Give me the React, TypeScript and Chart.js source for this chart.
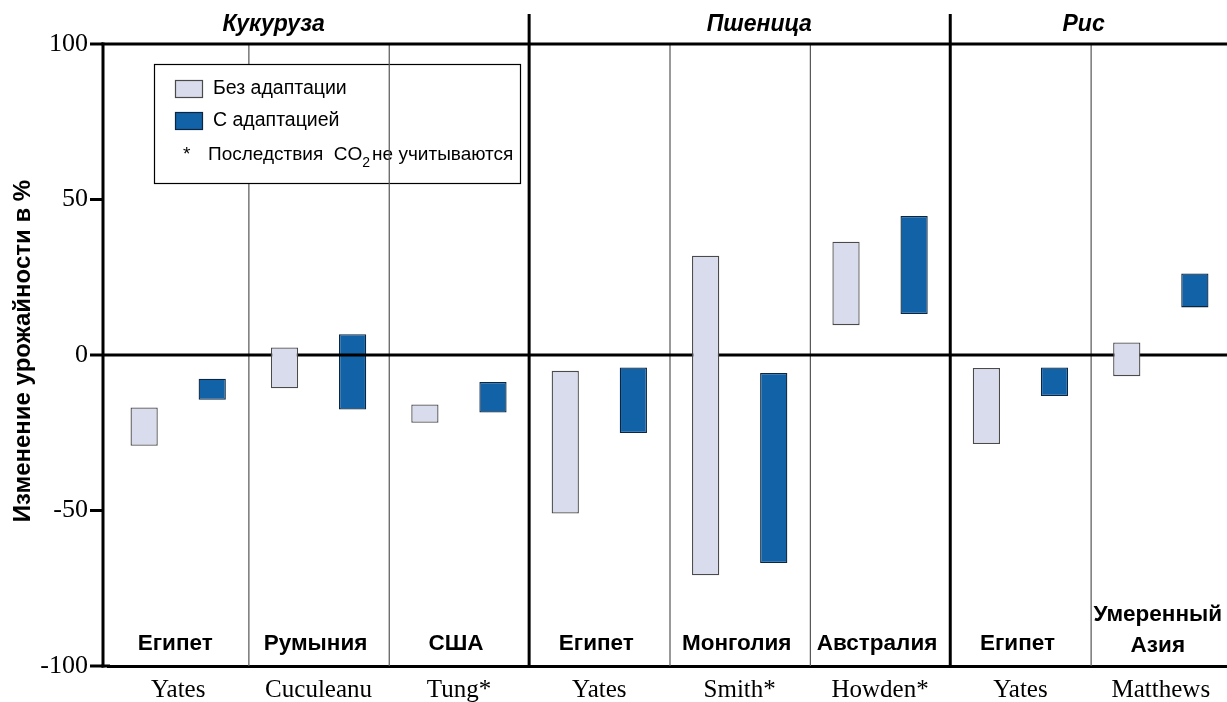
import React, { useEffect, useRef } from "react";
import { Chart, registerables } from "chart.js";

Chart.register(...registerables);

// ---- data ----
const studies = ["Yates", "Cuculeanu", "Tung*", "Yates", "Smith*", "Howden*", "Yates", "Matthews"];
const regions: string[][] = [
  ["Египет"],
  ["Румыния"],
  ["США"],
  ["Египет"],
  ["Монголия"],
  ["Австралия"],
  ["Египет"],
  ["Умеренный", "Азия"],
];
const crops = ["Кукуруза", "Пшеница", "Рис"];
const cropBoundaries = [3, 6]; // category boundaries between crops
const cropTitleAt = [1.18, 4.64, 6.95]; // title centre, in category units
const withoutLow = [-29.2, -10.7, -21.8, -51.0, -70.8, 9.6, -28.6, -6.8];
const withoutHigh = [-16.9, 2.4, -15.9, -5.1, 31.9, 36.4, -4.2, 4.0];
const withLow = [-14.4, -17.5, -18.5, -25.1, -66.9, 13.2, -13.2, 15.3];
const withHigh = [-7.6, 6.7, -8.7, -4.0, -5.8, 44.7, -4.0, 26.2];
const yTicks = [-100, -50, 0, 50, 100];

const seriesNames = ["Без адаптации", "С адаптацией"];
const noteText = "Последствия  CO";
const noteTail = "не учитываются";
const yTitle = "Изменение урожайности в %";

const LIGHT = "#d9dcec";
const LIGHT_BORDER = "#4a4a4a";
const DARK = "#1262a8";
const DARK_BORDER = "#0b2640";

const SANS = "'Liberation Sans', Arial, Helvetica, sans-serif";
const SERIF = "'Liberation Serif', 'Times New Roman', serif";

const AXIS_X = 103; // visible left axis line

export default function App() {
  const ref = useRef<HTMLCanvasElement | null>(null);

  useEffect(() => {
    const canvas = ref.current;
    if (!canvas) return;

    const line = (ctx: CanvasRenderingContext2D, x0: number, y0: number, x1: number, y1: number, lw: number, col: string) => {
      ctx.beginPath();
      ctx.lineWidth = lw;
      ctx.strokeStyle = col;
      ctx.moveTo(x0, y0);
      ctx.lineTo(x1, y1);
      ctx.stroke();
    };

    const overlay = {
      id: "overlay",
      beforeDatasetsDraw(chart: any) {
        const { ctx, chartArea: a, scales } = chart;
        const w = (a.right - a.left) / studies.length;
        const bx = (i: number) => a.left + w * i;
        ctx.save();
        // first thin separator (hidden behind legend)
        line(ctx, bx(1) + 0.5, a.top, bx(1) + 0.5, a.bottom, 1.2, "#555");

        // legend
        const lx = 154;
        const ly = a.top + 20;
        ctx.fillStyle = "#fff";
        ctx.fillRect(lx, ly, 366, 119);
        ctx.lineWidth = 1.2;
        ctx.strokeStyle = "#000";
        ctx.strokeRect(lx + 0.5, ly + 0.5, 366, 119);
        const sw = [
          { fill: LIGHT, border: LIGHT_BORDER },
          { fill: DARK, border: DARK_BORDER },
        ];
        ctx.font = `19.5px ${SANS}`;
        ctx.textBaseline = "middle";
        ctx.textAlign = "left";
        sw.forEach((s, i) => {
          const sy = ly + 16 + i * 32;
          ctx.fillStyle = s.fill;
          ctx.fillRect(lx + 21, sy, 27, 17);
          ctx.lineWidth = 1.2;
          ctx.strokeStyle = s.border;
          ctx.strokeRect(lx + 21.5, sy + 0.5, 27, 17);
          ctx.fillStyle = "#000";
          ctx.fillText(seriesNames[i], lx + 59, sy + 9);
        });
        const ny = ly + 91;
        ctx.font = `19px ${SANS}`;
        ctx.fillText("*", lx + 29, ny);
        ctx.fillText(noteText, lx + 54, ny);
        let tx = lx + 54 + ctx.measureText(noteText).width;
        ctx.font = `14px ${SANS}`;
        ctx.fillText("2", tx, ny + 8);
        tx += ctx.measureText("2").width + 2;
        ctx.font = `19px ${SANS}`;
        ctx.fillText(noteTail, tx, ny);

        // other thin separators
        [2, 4, 5, 7].forEach((i) => line(ctx, bx(i) + 0.5, a.top, bx(i) + 0.5, a.bottom, 1.2, "#555"));
        // thick crop separators
        cropBoundaries.forEach((i) => line(ctx, bx(i), 14, bx(i), a.bottom, 3, "#000"));
        // frame: top, left axis, bottom extension
        line(ctx, AXIS_X - 1.5, a.top, a.right, a.top, 3, "#000");
        line(ctx, AXIS_X, a.top - 1.5, AXIS_X, a.bottom + 1.5, 3, "#000");
        line(ctx, AXIS_X - 1.5, a.bottom, a.left + 2, a.bottom, 3, "#000");
        // y tick marks
        yTicks.forEach((v) => {
          const py = scales.y.getPixelForValue(v);
          line(ctx, 90, py, AXIS_X, py, 3, "#000");
        });
        ctx.restore();
      },
      afterDatasetDraw(chart: any, args: any) {
        if (args.index !== 1) return;
        const { ctx, chartArea: a, scales } = chart;
        const y0 = scales.y.getPixelForValue(0);
        ctx.save();
        line(ctx, AXIS_X, y0, a.right, y0, 3, "#000");
        ctx.restore();
      },
      afterDraw(chart: any) {
        const { ctx, chartArea: a } = chart;
        const w = (a.right - a.left) / studies.length;
        ctx.save();
        ctx.fillStyle = "#000";
        ctx.textAlign = "center";
        ctx.textBaseline = "alphabetic";
        // crop titles
        ctx.font = `italic bold 23px ${SANS}`;
        crops.forEach((c, i) => ctx.fillText(c, a.left + w * cropTitleAt[i], 31));
        // region labels
        ctx.font = `bold 22.5px ${SANS}`;
        regions.forEach((r, i) => {
          const cx = a.left + w * (i + 0.5) - 3;
          if (r.length === 1) {
            ctx.fillText(r[0], cx, a.bottom - 16);
          } else {
            ctx.fillText(r[0], cx, a.bottom - 45);
            ctx.fillText(r[1], cx, a.bottom - 14);
          }
        });
        // y title
        ctx.font = `bold 24px ${SANS}`;
        ctx.translate(23, (a.top + a.bottom) / 2 - 4);
        ctx.rotate(-Math.PI / 2);
        ctx.textBaseline = "middle";
        ctx.fillText(yTitle, 0, 0);
        ctx.restore();
      },
    };

    const chart = new Chart(canvas, {
      type: "bar",
      data: {
        labels: studies,
        datasets: [
          {
            label: seriesNames[0],
            data: withoutLow.map((v, i) => [v, withoutHigh[i]]),
            backgroundColor: LIGHT,
            borderColor: LIGHT_BORDER,
            borderWidth: 1.3,
            borderSkipped: false,
          },
          {
            label: seriesNames[1],
            data: withLow.map((v, i) => [v, withHigh[i]]),
            backgroundColor: DARK,
            borderColor: DARK_BORDER,
            borderWidth: 1.3,
            borderSkipped: false,
          },
        ],
      } as any,
      options: {
        animation: false,
        responsive: false,
        maintainAspectRatio: false,
        categoryPercentage: 0.97,
        barPercentage: 0.4,
        layout: { padding: { top: 44, right: 0, bottom: 0, left: 0 } },
        plugins: { legend: { display: false }, tooltip: { enabled: false } },
        scales: {
          x: {
            grid: { display: false, drawTicks: false },
            border: { display: true, color: "#000", width: 3 },
            ticks: {
              color: "#000",
              font: { family: SERIF, size: 25 },
              padding: 9,
              maxRotation: 0,
              autoSkip: false,
            },
            afterFit: (s: any) => {
              s.height = 36;
            },
          },
          y: {
            min: -100,
            max: 100,
            afterBuildTicks: (s: any) => {
              s.ticks = yTicks.map((v) => ({ value: v }));
            },
            grid: {
              drawOnChartArea: false,
              drawTicks: false,
            },
            border: { display: false },
            ticks: {
              color: "#000",
              font: { family: SERIF, size: 26 },
              padding: 20,
              callback: (v: any) => String(v),
            },
            afterFit: (s: any) => {
              s.width = 108;
            },
          },
        },
      } as any,
      plugins: [overlay],
    });

    return () => chart.destroy();
  }, []);

  return (
    <div style={{ position: "fixed", left: 0, top: 0, width: 1227, height: 702, overflow: "hidden", background: "#fff" }}>
      <canvas ref={ref} width={1231} height={702} style={{ display: "block" }} />
    </div>
  );
}
